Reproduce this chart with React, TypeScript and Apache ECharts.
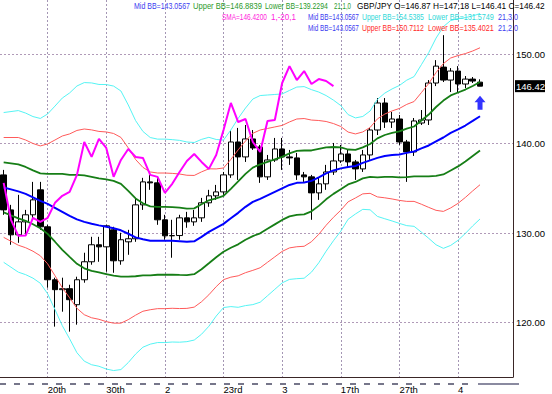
import React, { useEffect, useRef } from 'react';
import * as echarts from 'echarts';

// ---------- data ----------
const barCount = 70;
const barIndex = Array.from({ length: barCount }, (_, i) => String(i));

const opens = [
  136.50, 132.59, 129.80, 131.25, 132.04, 134.83, 130.70, 124.78, 123.67, 123.78,
  121.99, 124.78, 126.79, 128.69, 128.46, 130.36, 126.90, 129.02, 129.36, 133.15,
  135.72, 135.61, 131.48, 129.69, 129.72, 131.70, 131.25, 131.70, 133.38, 134.16,
  134.60, 136.50, 140.18, 138.51, 140.52, 139.62, 136.28, 138.17, 139.40, 138.51,
  138.40, 136.50, 136.28, 134.49, 135.50, 136.83, 138.06, 138.84, 137.95, 137.17,
  138.73, 141.52, 144.54, 142.41, 142.75, 140.18, 139.07, 142.30, 142.64, 146.77,
  148.55, 147.10, 148.11, 146.66, 147.21, 146.87,
];
const closes = [
  132.59, 129.80, 131.25, 132.04, 133.71, 130.70, 124.78, 123.67, 123.78, 122.55,
  124.78, 126.79, 128.69, 128.46, 130.81, 126.90, 129.25, 129.36, 133.15, 135.72,
  135.61, 131.48, 129.69, 129.72, 131.70, 131.25, 131.70, 133.38, 134.16, 134.60,
  136.50, 140.18, 138.51, 140.52, 139.51, 136.28, 138.17, 139.40, 138.51, 138.40,
  136.50, 136.28, 134.49, 135.50, 136.83, 138.06, 138.84, 137.95, 137.17, 138.73,
  141.52, 144.54, 142.41, 142.75, 140.18, 139.07, 142.53, 142.64, 146.77, 148.66,
  147.10, 148.11, 146.66, 147.21, 146.99, 146.42,
];
const lows = [
  132.04, 128.69, 128.91, 129.80, 131.70, 130.36, 123.89, 119.54, 121.21, 118.98,
  119.76, 124.45, 126.46, 126.79, 125.67, 125.56, 126.46, 127.57, 129.02, 132.59,
  134.83, 130.92, 129.25, 127.24, 129.25, 130.59, 130.81, 131.25, 132.93, 133.71,
  134.27, 136.17, 135.94, 137.95, 139.29, 135.61, 135.94, 137.95, 137.06, 137.62,
  135.94, 135.72, 131.48, 133.71, 134.83, 136.50, 137.84, 137.28, 135.94, 136.83,
  138.17, 140.96, 141.75, 141.75, 139.85, 135.72, 138.62, 142.08, 142.08, 146.43,
  146.88, 145.76, 145.76, 146.21, 146.77, 146.41,
];
const highs = [
  137.06, 133.15, 134.27, 132.59, 135.72, 135.72, 130.92, 125.01, 125.01, 124.22,
  125.12, 127.80, 129.58, 129.58, 130.92, 130.70, 130.03, 130.36, 133.93, 136.17,
  136.50, 136.17, 132.04, 131.48, 132.04, 132.37, 132.59, 133.93, 134.83, 135.38,
  136.83, 141.52, 141.75, 142.08, 141.52, 139.85, 138.73, 140.63, 140.63, 139.29,
  138.96, 136.83, 136.50, 136.17, 137.62, 140.07, 139.85, 139.29, 138.17, 139.29,
  141.75, 145.09, 145.09, 143.53, 143.20, 140.41, 142.86, 143.75, 147.10, 149.33,
  152.12, 148.44, 148.66, 147.55, 147.44, 147.18,
];

// Bollinger mid line (21-bar average) and one standard deviation
const midBB = [
  135.10, 134.88, 134.66, 134.38, 133.99, 133.60, 133.26, 132.82, 132.37, 131.92,
  131.53, 131.25, 131.03, 130.86, 130.70, 130.53, 130.31, 129.92, 129.52, 129.30,
  129.13, 129.13, 129.13, 129.13, 129.08, 129.02, 129.08, 129.58, 130.14, 130.59,
  131.03, 131.65, 132.26, 132.93, 133.49, 133.82, 134.21, 134.60, 134.99, 135.38,
  135.61, 135.66, 135.83, 136.22, 136.67, 137.00, 137.23, 137.39, 137.50, 137.84,
  138.12, 138.40, 138.62, 138.73, 138.79, 138.96, 139.12, 139.46, 139.79, 140.24,
  140.68, 141.19, 141.58, 142.02, 142.53, 143.0567,
];
const sdBB = [
  2.79, 2.90, 3.01, 3.01, 3.01, 3.07, 3.35, 3.79, 4.24, 4.58,
  4.97, 5.19, 5.25, 5.25, 5.30, 5.30, 5.19, 4.80, 4.35, 4.02,
  3.85, 3.79, 3.79, 3.77, 3.76, 3.72, 3.68, 3.63, 3.52, 3.29,
  3.12, 3.29, 3.52, 3.68, 3.83, 3.85, 3.74, 3.63, 3.52, 3.52,
  3.57, 3.57, 3.40, 3.18, 2.90, 2.62, 2.34, 1.95, 1.79, 1.73,
  1.84, 2.18, 2.34, 2.46, 2.57, 2.71, 2.79, 3.12, 3.46, 3.85,
  4.13, 4.19, 4.13, 4.02, 3.91, 3.8272,
];
const smaShift = 20; // SMA(1) displaced -20 bars

const dateLabels = ['20th', '30th', '2', '23rd', '3', '17th', '27th', '4'];
const firstLabelBar = 6;
const labelEvery = 8;

const yMin = 113.91;
const yMax = 156.05;

const arrowMarks = [[65, 144.57]];

// legend texts: [text, color, left x, right x, centre y]
const FONT = '"Liberation Sans", Arial, sans-serif';
const legendSegments: [string, string, number, number, number][] = [
  ['Mid BB=143.0567', '#3c3cf0', 134, 190, 6],
  ['Upper BB=146.8839', '#2a9a2a', 193, 262, 6],
  ['Lower BB=139.2294', '#2a9a2a', 265, 328, 6],
  ['21,1,0', '#2a9a2a', 334, 351, 6],
  ['GBP/JPY O=146.87 H=147.18 L=146.41 C=146.42', '#000000', 357, 545, 6],
  ['SMA=146.4200', '#ff22dd', 222, 267, 17],
  ['1,-20,1', '#ff22dd', 271, 296, 17],
  ['Mid BB=143.0567', '#3c3cf0', 308, 359, 17],
  ['Upper BB=154.5385', '#30d8d8', 362, 424, 17],
  ['Lower BB=131.5749', '#30d8d8', 428, 494, 17],
  ['21,3,0', '#3c3cf0', 498, 518, 17],
  ['Mid BB=143.0567', '#3c3cf0', 308, 359, 28],
  ['Upper BB=150.7112', '#ff2a2a', 362, 424, 28],
  ['Lower BB=135.4021', '#ff2a2a', 428, 494, 28],
  ['21,2,0', '#3c3cf0', 498, 518, 28],
];

// ---------- helpers ----------
const band = (k: number) => midBB.map((m, i) => +(m + k * sdBB[i]).toFixed(4));

function measure(text: string, size: number): number {
  const c = document.createElement('canvas');
  const ctx = c.getContext('2d');
  if (!ctx) return text.length * size * 0.55;
  ctx.font = `${size}px ${FONT}`;
  return ctx.measureText(text).width;
}

export default function App() {
  const ref = useRef<HTMLDivElement>(null);

  useEffect(() => {
    document.body.style.margin = '0';
    if (!ref.current) return;
    const chart = echarts.init(ref.current, null, { renderer: 'svg' });

    const candleData = opens.map((o, i) => [o, closes[i], lows[i], highs[i]]);
    const smaData = closes.slice(smaShift);

    const lineSeries = (name: string, data: number[], color: string, width: number) => ({
      name,
      type: 'line',
      data,
      symbol: 'none',
      silent: true,
      z: 3,
      lineStyle: { color, width },
    });

    const legendSize = 9.5;
    const legendGraphics = legendSegments.map(([text, color, x0, x1, y]) => ({
      type: 'text',
      x: x0,
      y,
      scaleX: (x1 - x0) / measure(text, legendSize),
      silent: true,
      z: 20,
      style: { text, fill: color, fontSize: legendSize, fontFamily: FONT, align: 'left', verticalAlign: 'middle' },
    }));

    const stripGraphics = [
      { type: 'line', silent: true, shape: { x1: 0, y1: 384, x2: 468, y2: 384 }, style: { stroke: '#76768a', lineWidth: 2, lineDash: [6, 8] } },
      { type: 'line', silent: true, shape: { x1: 478, y1: 384, x2: 519, y2: 384 }, style: { stroke: '#8a8aa0', lineWidth: 2 } },
    ];

    const xMin = (-0.5 - firstLabelBar) / labelEvery;
    const xMax = (barCount - 0.5 - firstLabelBar) / labelEvery;

    const option: any = {
      animation: false,
      backgroundColor: '#ffffff',
      grid: { left: 0, top: 0, width: 513, height: 378, containLabel: false },
      xAxis: [
        {
          type: 'category',
          data: barIndex,
          boundaryGap: true,
          axisLine: { show: true, onZero: false, lineStyle: { color: '#3a2626', width: 1 } },
          axisTick: { show: false },
          axisLabel: { show: false },
          splitLine: { show: false },
        },
        {
          type: 'value',
          position: 'bottom',
          min: xMin,
          max: xMax,
          minInterval: 1,
          maxInterval: 1,
          axisLine: { show: false, onZero: false },
          axisTick: { show: false },
          axisLabel: {
            show: true,
            showMinLabel: false,
            showMaxLabel: false,
            align: 'left',
            margin: 7,
            fontSize: 9.5,
            fontFamily: FONT,
            color: '#000',
            formatter: (v: number) => {
              const k = Math.round(v);
              return Math.abs(v - k) < 1e-6 && k >= 0 && k < dateLabels.length ? dateLabels[k] : '';
            },
          },
          splitLine: {
            show: true,
            showMinLine: false,
            showMaxLine: false,
            lineStyle: { color: '#a496b4', width: 1, type: [2, 2] },
          },
        },
      ],
      yAxis: {
        type: 'value',
        position: 'right',
        min: yMin,
        max: yMax,
        minInterval: 10,
        maxInterval: 10,
        axisLine: { show: true, onZero: false, lineStyle: { color: '#3a2626', width: 1 } },
        axisTick: { show: false },
        axisLabel: {
          show: true,
          showMinLabel: false,
          showMaxLabel: false,
          margin: 3,
          fontSize: 9.5,
          fontFamily: FONT,
          color: '#000',
          formatter: (v: number) => (Math.abs(v / 10 - Math.round(v / 10)) < 1e-6 ? v.toFixed(2) : ''),
        },
        splitLine: {
          show: true,
          showMinLine: false,
          showMaxLine: false,
          lineStyle: { color: '#b09ab8', width: 1, type: [2, 2] },
        },
      },
      series: [
        {
          name: 'GBP/JPY',
          type: 'candlestick',
          xAxisIndex: 0,
          data: candleData,
          barWidth: 6,
          z: 2,
          silent: true,
          itemStyle: { color: '#ffffff', color0: '#000000', borderColor: '#000000', borderColor0: '#000000', borderWidth: 1 },
        },
        lineSeries('Upper BB 3', band(3), '#55f4f4', 1),
        lineSeries('Lower BB 3', band(-3), '#55f4f4', 1),
        lineSeries('Upper BB 2', band(2), '#ff5a5a', 1),
        lineSeries('Lower BB 2', band(-2), '#ff5a5a', 1),
        lineSeries('Upper BB 1', band(1), '#167e16', 1.8),
        lineSeries('Lower BB 1', band(-1), '#167e16', 1.8),
        lineSeries('Mid BB', midBB, '#0000ff', 2),
        lineSeries('SMA', smaData, '#ff00ff', 2),
        {
          name: 'arrow',
          type: 'scatter',
          data: arrowMarks,
          symbol: 'path://M5.5,0 L11,6.5 L8,6.5 L8,14 L3,14 L3,6.5 L0,6.5 Z',
          symbolSize: [11, 14],
          silent: true,
          z: 5,
          itemStyle: { color: '#0000ff' },
        },
      ],
      graphic: { elements: [...legendGraphics, ...stripGraphics] },
    };

    chart.setOption(option);

    const lastClose = closes[closes.length - 1];
    const py = chart.convertToPixel({ yAxisIndex: 0 }, lastClose) as number;
    const priceGraphics = [
      { type: 'rect', silent: true, z: 21, shape: { x: 515, y: py - 6, width: 30, height: 12 }, style: { fill: '#000000' } },
      {
        type: 'text', x: 516, y: py, silent: true, z: 22,
        style: { text: lastClose.toFixed(2), fill: '#ffffff', fontSize: 9.5, fontFamily: FONT, align: 'left', verticalAlign: 'middle' },
      },
    ];
    chart.setOption({ ...option, graphic: { elements: [...legendGraphics, ...stripGraphics, ...priceGraphics] } }, { notMerge: true });

    return () => chart.dispose();
  }, []);

  return <div ref={ref} style={{ width: 552, height: 394 }} />;
}
